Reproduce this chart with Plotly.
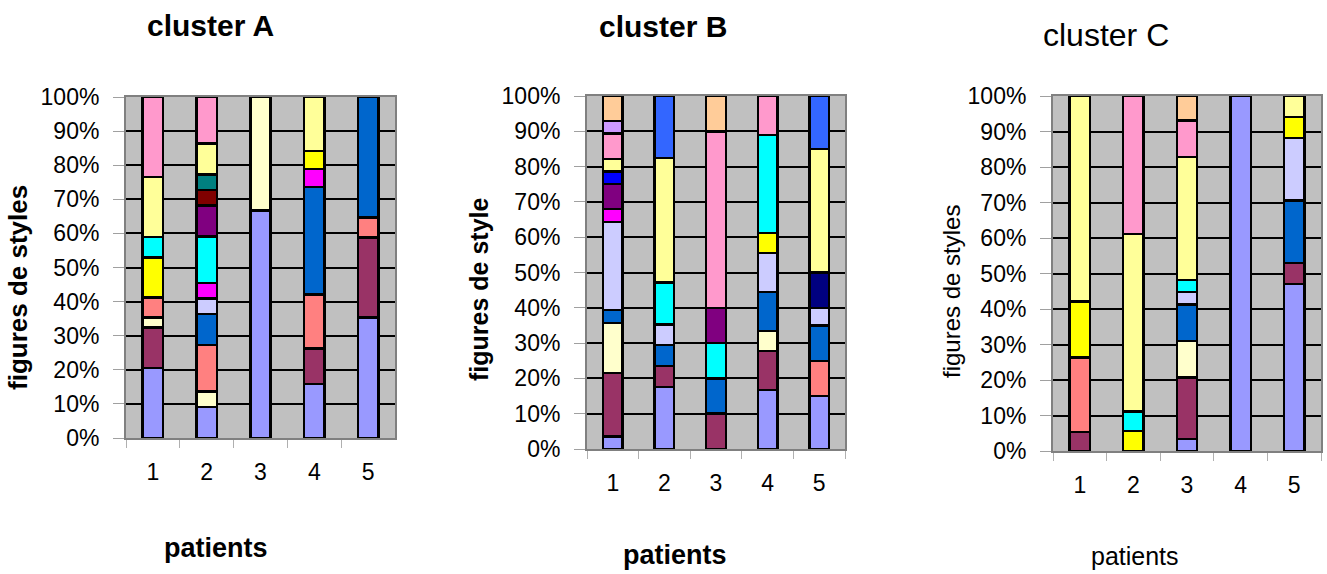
import plotly.graph_objects as go

W, H = 1327, 574

patients = ["1", "2", "3", "4", "5"]
tick_pct = [0, 10, 20, 30, 40, 50, 60, 70, 80, 90, 100]
tick_pct_labels = [f"{v}%" for v in tick_pct]

# style series in stacking order (bottom -> top), Excel default palette
series_names = ["s1", "s2", "s3", "s4", "s5", "s6", "s7", "s8", "s9", "s10",
                "s11", "s12", "s13", "s14", "s15", "s16", "s17", "s18", "s19"]
series_colors = ["#9999FF", "#993366", "#FFFFCC", "#FF8080", "#0066CC", "#CCCCFF",
                 "#000080", "#FF00FF", "#FFFF00", "#00FFFF", "#800080", "#800000",
                 "#008080", "#0000FF", "#FFFF99", "#FF99CC", "#CC99FF", "#FFCC99",
                 "#3366FF"]

N = None
# share (%) of each style per patient, one row per series (patients 1..5)
cluster_A = [
    [20.6, 9.1, 66.7, 15.8, 35.3],
    [11.8, N, N, 10.5, 23.5],
    [2.9, 4.5, 33.3, N, N],
    [5.9, 13.6, N, 15.8, 5.9],
    [N, 9.1, N, 31.6, 35.3],
    [N, 4.5, N, N, N],
    [N, N, N, N, N],
    [N, 4.5, N, 5.3, N],
    [11.8, N, N, 5.3, N],
    [5.9, 13.6, N, N, N],
    [N, 9.1, N, N, N],
    [N, 4.5, N, N, N],
    [N, 4.5, N, N, N],
    [N, N, N, N, N],
    [17.6, 9.1, N, 15.8, N],
    [23.5, 13.6, N, N, N],
    [N, N, N, N, N],
    [N, N, N, N, N],
    [N, N, N, N, N],
]
cluster_B = [
    [3.6, 17.6, N, 16.7, 15.0],
    [17.9, 5.9, 10.0, 11.1, N],
    [14.3, N, N, 5.6, N],
    [N, N, N, N, 10.0],
    [3.6, 5.9, 10.0, 11.1, 10.0],
    [25.0, 5.9, N, 11.1, 5.0],
    [N, N, N, N, 10.0],
    [3.6, N, N, N, N],
    [N, N, N, 5.6, N],
    [N, 11.8, 10.0, 27.8, N],
    [7.1, N, 10.0, N, N],
    [N, N, N, N, N],
    [N, N, N, N, N],
    [3.6, N, N, N, N],
    [3.6, 35.3, N, N, 35.0],
    [7.1, N, 50.0, 11.1, N],
    [3.6, N, N, N, N],
    [7.1, N, 10.0, N, N],
    [N, 17.6, N, N, 15.0],
]
cluster_C = [
    [N, N, 3.4, 100.0, 47.1],
    [5.3, N, 17.2, N, 5.9],
    [N, N, 10.3, N, N],
    [21.1, N, N, N, N],
    [N, N, 10.3, N, 17.6],
    [N, N, 3.4, N, 17.6],
    [N, N, N, N, N],
    [N, N, N, N, N],
    [15.8, 5.6, N, N, 5.9],
    [N, 5.6, 3.4, N, N],
    [N, N, N, N, N],
    [N, N, N, N, N],
    [N, N, N, N, N],
    [N, N, N, N, N],
    [57.9, 50.0, 34.5, N, 5.9],
    [N, 38.9, 10.3, N, N],
    [N, N, N, N, N],
    [N, N, 6.9, N, N],
    [N, N, N, N, N],
]

FONT = "Liberation Sans, Arial, sans-serif"

def px_x(p):
    return p / W

def px_y(p):
    return 1 - p / H

panels = [
    # data, axis suffix, plot box (x0, x1, ytop, ybottom) in px
    (cluster_A, "", (126, 395, 97, 438)),
    (cluster_B, "2", (587, 845, 96, 449)),
    (cluster_C, "3", (1053, 1321, 96, 451)),
]

fig = go.Figure()
for data, sfx, box in panels:
    for name, color, vals in zip(series_names, series_colors, data):
        if all(v is None for v in vals):
            continue
        fig.add_trace(go.Bar(
            x=patients, y=vals, name=name,
            xaxis="x" + sfx, yaxis="y" + sfx,
            marker=dict(color=color, line=dict(color="black", width=2.5)),
            showlegend=False, hoverinfo="skip",
        ))

layout = dict(
    width=W, height=H,
    margin=dict(l=0, r=0, t=0, b=0, autoexpand=False),
    paper_bgcolor="white",
    plot_bgcolor="#C0C0C0",
    barmode="stack", barnorm="percent", bargap=0.62,
    font=dict(family=FONT, color="black"),
    showlegend=False,
)
for data, sfx, (x0, x1, yt, yb) in panels:
    layout["xaxis" + sfx] = dict(
        domain=[px_x(x0), px_x(x1)], anchor="y" + sfx, type="category",
        automargin=False,
        tickson="boundaries", ticks="outside", ticklen=8, tickcolor="#B0B0B0",
        showline=True, linecolor="#808080", linewidth=2, mirror=True,
        showgrid=False, tickfont=dict(size=23, family=FONT),
        ticklabelstandoff=12,
    )
    layout["yaxis" + sfx] = dict(
        domain=[px_y(yb), px_y(yt)], anchor="x" + sfx, range=[0, 100],
        automargin=False,
        tickvals=tick_pct, ticktext=tick_pct_labels,
        ticks="outside", ticklen=11, tickcolor="#A0A0A0",
        showline=True, linecolor="#808080", linewidth=2, mirror=True,
        showgrid=True, gridcolor="black", gridwidth=1.5, zeroline=False,
        tickfont=dict(size=23, family=FONT), ticklabelstandoff=9,
    )

texts = [
    ("cluster A", 210, 26, 30, True, 0),
    ("cluster B", 663, 27, 30, True, 0),
    ("cluster C", 1106, 35, 32, False, 0),
    ("figures de styles", 18, 288, 26, True, -90),
    ("figures de style", 479, 290, 25, True, -90),
    ("figures de styles", 951, 292, 24, False, -90),
    ("patients", 216, 548, 27, True, 0),
    ("patients", 675, 555, 27, True, 0),
    ("patients", 1135, 556, 25, False, 0),
]
annotations = []
for t, x, y, size, bold, ang in texts:
    annotations.append(dict(
        text=f"<b>{t}</b>" if bold else t,
        x=px_x(x), y=px_y(y), xref="paper", yref="paper",
        xanchor="center", yanchor="middle", showarrow=False,
        textangle=ang, font=dict(size=size, family=FONT, color="black"),
    ))
layout["annotations"] = annotations

fig.update_layout(**layout)
fig.write_html("out.html")
